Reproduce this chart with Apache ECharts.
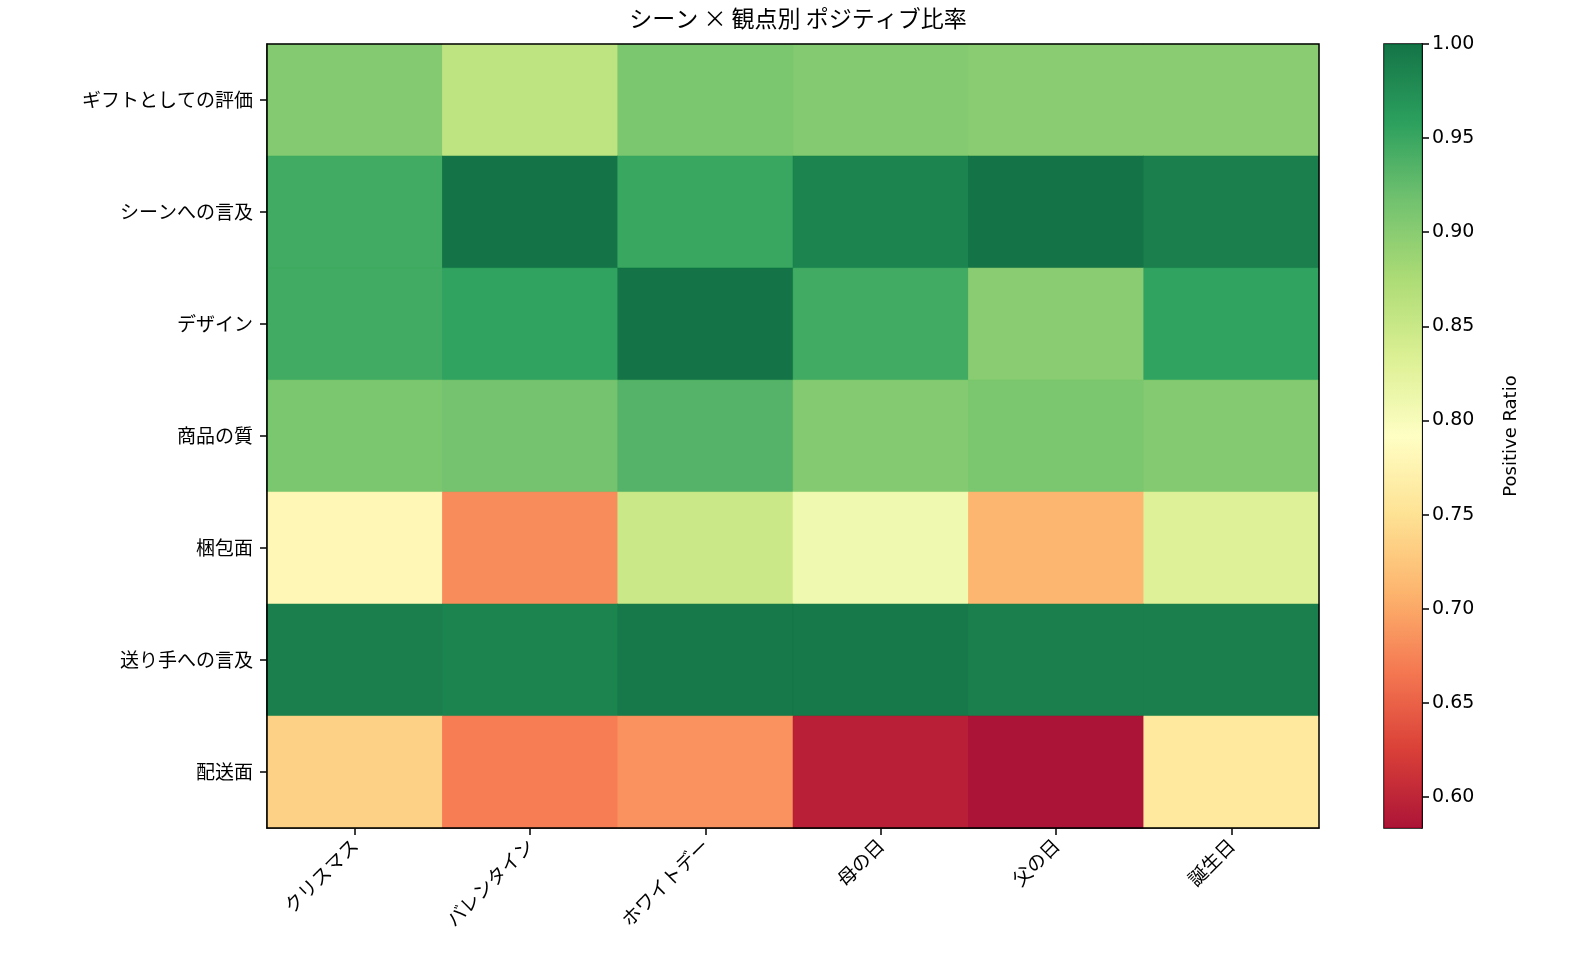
<!DOCTYPE html>
<html><head><meta charset="utf-8">
<script src="https://cdn.jsdelivr.net/npm/echarts@6/dist/echarts.min.js"></script>
<style>html,body{margin:0;background:#fff}#c{width:1572px;height:974px}</style>
</head><body><div id="c"></div>
<script>
// scenes (columns) and aspects (rows)
let scenes = ["クリスマス", "バレンタイン", "ホワイトデー", "母の日", "父の日", "誕生日"];
let aspects = ["ギフトとしての評価", "シーンへの言及", "デザイン", "商品の質", "梱包面", "送り手への言及", "配送面"];
let ratios = [
  [0.905, 0.86, 0.91, 0.905, 0.90, 0.90],
  [0.945, 1.0, 0.95, 0.985, 1.0, 0.99],
  [0.945, 0.955, 1.0, 0.945, 0.90, 0.955],
  [0.91, 0.915, 0.935, 0.905, 0.91, 0.905],
  [0.78, 0.68, 0.85, 0.81, 0.71, 0.83],
  [0.99, 0.985, 0.995, 0.995, 0.99, 0.99],
  [0.735, 0.67, 0.685, 0.595, 0.583, 0.76]
];
let cbTicks = [0.60, 0.65, 0.70, 0.75, 0.80, 0.85, 0.90, 0.95, 1.00];
let vMin = 0.5835, vMax = 1.0;

let rdylgn = ["#a50026", "#d73027", "#f46d43", "#fdae61", "#fee08b", "#ffffbf",
              "#d9ef8b", "#a6d96a", "#66bd63", "#1a9850", "#006837"];

let cells = [];
ratios.forEach(function(row, i) {
  row.forEach(function(v, j) { cells.push([j, i, v]); });
});

let font = "Noto Sans CJK JP";
let tickStyle = { show: true, interval: 0, alignWithLabel: true, length: 7, lineStyle: { color: "#000", width: 1.5 } };
let chart = echarts.init(document.getElementById("c"));
let option = {
  textStyle: { fontFamily: font },
  title: {
    text: "シーン × 観点別 ポジティブ比率", left: 793, top: 2, textAlign: "center",
    textStyle: { fontFamily: font, fontSize: 23, fontWeight: "normal", color: "#000" }
  },
  grid: [
    { left: 267, top: 44, width: 1052, height: 784, show: true, borderColor: "#000", borderWidth: 1.5, backgroundColor: "transparent", z: 10 },
    { left: 1384, top: 44, width: 38, height: 784, show: true, borderColor: "#000", borderWidth: 1.5, backgroundColor: "transparent" }
  ],
  xAxis: [
    {
      type: "category", data: scenes, gridIndex: 0, position: "bottom",
      axisLine: { lineStyle: { color: "#000", width: 1.5 } },
      axisTick: tickStyle,
      axisLabel: { interval: 0, rotate: 45, fontSize: 19, color: "#000", margin: 14, fontFamily: font }
    },
    { type: "category", data: ["cb"], gridIndex: 1, show: false }
  ],
  yAxis: [
    {
      type: "category", data: aspects, gridIndex: 0, inverse: true,
      axisLine: { lineStyle: { color: "#000", width: 1.5 } },
      axisTick: tickStyle,
      axisLabel: { interval: 0, fontSize: 19, color: "#000", margin: 14, fontFamily: font }
    },
    {
      type: "value", gridIndex: 1, position: "right", min: vMin, max: vMax,
      splitLine: { show: false },
      axisLine: { show: true, lineStyle: { color: "#000", width: 1.5 } },
      axisTick: { show: true, length: 7, customValues: cbTicks, lineStyle: { color: "#000", width: 1.5 } },
      axisLabel: {
        customValues: cbTicks, fontSize: 19, color: "#000", margin: 10, fontFamily: "DejaVu Sans",
        formatter: function(v) { return v.toFixed(2); }
      },
      name: "Positive Ratio", nameLocation: "middle", nameGap: 80, nameRotate: 90,
      nameTextStyle: { fontSize: 18, color: "#000", fontFamily: "DejaVu Sans" }
    }
  ],
  visualMap: {
    show: false, min: vMin, max: vMax, seriesIndex: 0, dimension: 2,
    inRange: { color: rdylgn }
  },
  series: [
    {
      type: "heatmap", data: cells, xAxisIndex: 0, yAxisIndex: 0,
      itemStyle: { opacity: 0.92 }
    },
    {
      type: "bar", data: [vMax], xAxisIndex: 1, yAxisIndex: 1, barWidth: "100%",
      silent: true,
      itemStyle: {
        opacity: 0.92,
        color: new echarts.graphic.LinearGradient(0, 1, 0, 0,
          rdylgn.map(function(c, k) { return { offset: k / (rdylgn.length - 1), color: c }; }))
      }
    }
  ]
};
chart.setOption(option);
</script>
</body></html>
